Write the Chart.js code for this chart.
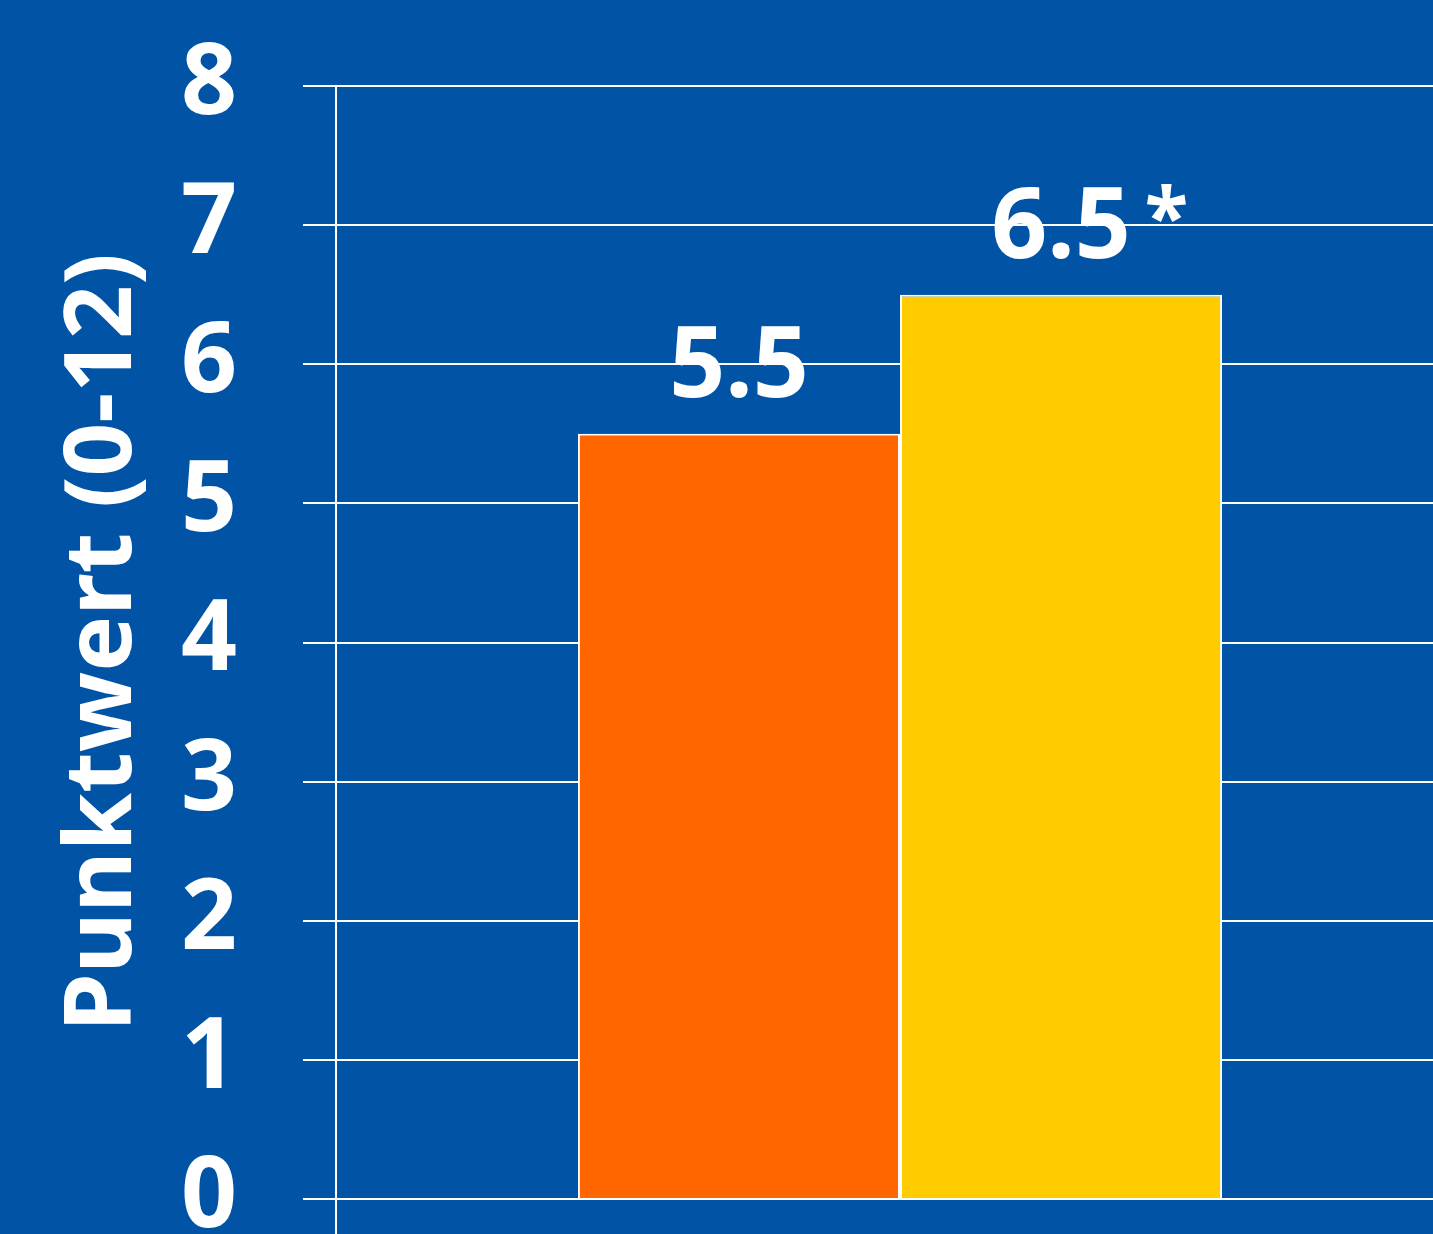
<!DOCTYPE html>
<html>
<head>
<meta charset="utf-8">
<script src="https://cdn.jsdelivr.net/npm/chart.js@4.4.0/dist/chart.umd.min.js"></script>
<style>
  html, body { margin: 0; padding: 0; overflow: hidden; background: #0053a5; }
  #wrap { width: 1464px; height: 1270px; }
  canvas { background: #0053a5; }
</style>
</head>
<body>
<div id="wrap"><canvas id="chart" width="1464" height="1270"></canvas></div>
<script>
const categories = [''];
const seriesA = [5.5];
const seriesB = [6.5];
const valueLabels = ['5.5', '6.5'];
const valueMarks = ['', '*'];
const yTicks = [0, 1, 2, 3, 4, 5, 6, 7, 8];

const FONT = "'Noto Sans', sans-serif";

// value labels drawn before the scales so the grid runs over them
const valueLabelPlugin = {
    id: 'valueLabels',
    beforeDraw(chart) {
        const ctx = chart.ctx;
        ctx.save();
        ctx.fillStyle = '#ffffff';
        ctx.textBaseline = 'alphabetic';
        chart.data.datasets.forEach((ds, i) => {
            const bar = chart.getDatasetMeta(i).data[0];
            if (!bar) return;
            ctx.font = `bold 98px ${FONT}`;
            ctx.textAlign = 'center';
            const y = bar.y - 37;
            ctx.fillText(valueLabels[i], bar.x, y);
            if (valueMarks[i]) {
                const w = ctx.measureText(valueLabels[i]).width;
                ctx.font = `bold 80px ${FONT}`;
                ctx.textAlign = 'left';
                ctx.fillText(valueMarks[i], bar.x + w / 2 + 14, y - 12);
            }
        });
        ctx.restore();
    }
};

new Chart(document.getElementById('chart'), {
    type: 'bar',
    data: {
        labels: categories,
        datasets: [
            {
                data: seriesA,
                backgroundColor: '#ff6600',
                borderColor: '#ffffff',
                borderWidth: 2,
                borderSkipped: 'bottom'
            },
            {
                data: seriesB,
                backgroundColor: '#ffcc00',
                borderColor: '#ffffff',
                borderWidth: 2,
                borderSkipped: 'bottom'
            }
        ]
    },
    options: {
        responsive: false,
        animation: false,
        events: [],
        layout: { padding: { top: 86, left: 0, right: 0, bottom: 0 } },
        datasets: {
            bar: { categoryPercentage: 0.571, barPercentage: 1.0 }
        },
        plugins: {
            legend: { display: false },
            tooltip: { enabled: false }
        },
        scales: {
            x: {
                offset: true,
                grid: {
                    display: true,
                    offset: true,
                    drawOnChartArea: false,
                    drawTicks: true,
                    tickLength: 37,
                    color: '#ffffff',
                    lineWidth: 2
                },
                border: { display: false },
                ticks: { display: false, padding: 0 },
                afterFit(scale) { scale.height = 37; }
            },
            y: {
                min: 0,
                max: 8,
                afterBuildTicks(scale) {
                    scale.ticks = yTicks.map(v => ({ value: v }));
                },
                grid: {
                    color: '#ffffff',
                    lineWidth: 2,
                    tickLength: 33
                },
                border: { display: true, color: '#ffffff', width: 2 },
                ticks: {
                    color: '#ffffff',
                    padding: 66,
                    font: { family: FONT, size: 98, weight: 'bold', lineHeight: 0.1 }
                },
                title: {
                    display: true,
                    text: 'Punktwert (0-12)',
                    color: '#ffffff',
                    padding: { top: 48, bottom: 0 },
                    font: { family: FONT, size: 94, weight: 'bold' }
                },
                afterFit(scale) { scale.width = 336; }
            }
        }
    },
    plugins: [valueLabelPlugin]
});
</script>
</body>
</html>
